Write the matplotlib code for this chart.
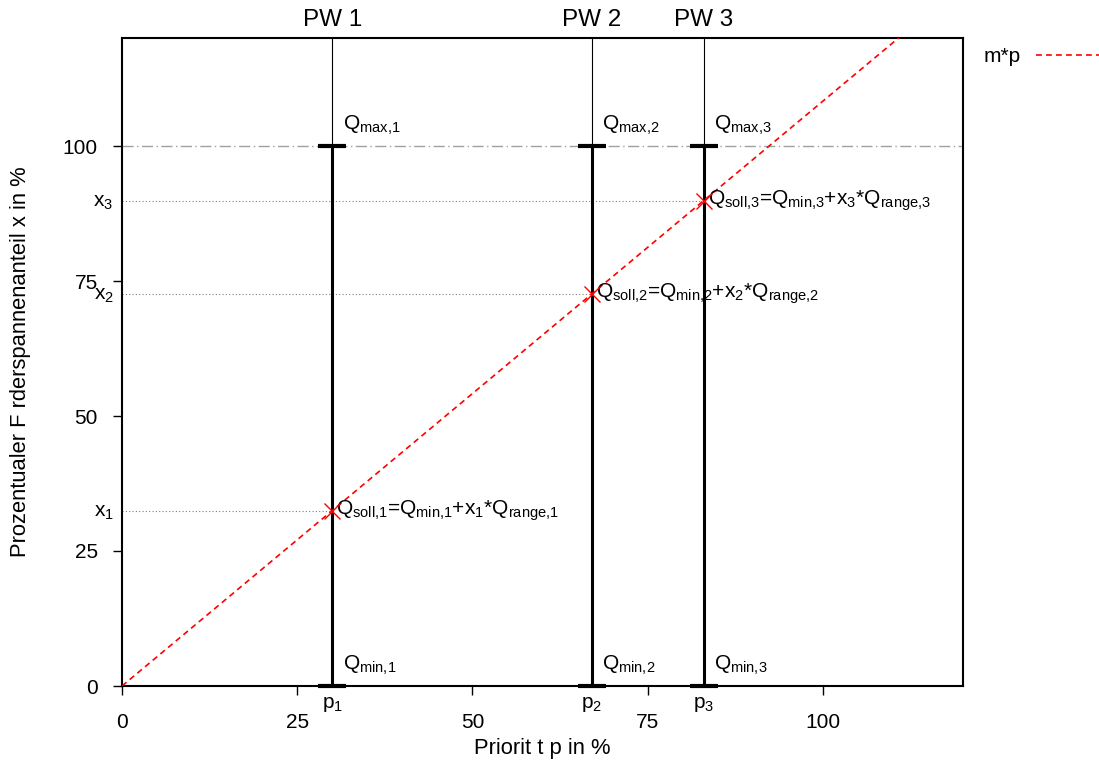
import matplotlib
matplotlib.use("Agg")
import matplotlib.pyplot as plt
import matplotlib.transforms as mtransforms

plt.rcParams['font.family'] = ['Liberation Sans', 'DejaVu Sans']
plt.rcParams['mathtext.fontset'] = 'custom'
plt.rcParams['mathtext.rm'] = 'Liberation Sans'
plt.rcParams['mathtext.it'] = 'Liberation Sans'
plt.rcParams['mathtext.default'] = 'regular'

# ---- data ----
pw_names = ["PW 1", "PW 2", "PW 3"]
p_values = [30, 67, 83]          # Priorität p in %
m_slope = 1.083                  # m
x_levels = [32.5, 72.6, 89.9]    # x_i = m * p_i
q_min = [0, 0, 0]
q_max = [100, 100, 100]
x_ticks = [0, 25, 50, 75, 100]
y_ticks = [0, 25, 50, 75, 100]
x_range = (0, 120)
y_range = (0, 120)
line_x = [0, 120]

FS = 15
FS_LAB = 15.8

fig = plt.figure(figsize=(10.99, 7.63), dpi=100)
ax = fig.add_axes([122/1099, 1-686/763, (963-122)/1099, (686-38)/763])
ax.set_xlim(*x_range)
ax.set_ylim(*y_range)

# Qmax line (gray dash-dot)
ax.axhline(100, color='#a0a0a0', lw=1.0, ls=(0, (8, 2.5, 1, 2.5)), zorder=1)

# dotted x_i level lines
for p, xl in zip(p_values, x_levels):
    ax.plot([0, p], [xl, xl], color='#808080', lw=0.8, ls=(0, (1, 2)), zorder=1)

# m*p line
ax.plot(line_x, [m_slope * v for v in line_x], color='red', lw=1.2,
        ls=(0, (3.5, 2.5)), label='m*p', zorder=3)

# PW vertical lines
for i, p in enumerate(p_values):
    ax.plot([p, p], [q_max[i], y_range[1]], color='black', lw=0.8, zorder=2)
    ax.plot([p, p], [q_min[i], q_max[i]], color='black', lw=2.2, zorder=2)
    for q in (q_min[i], q_max[i]):
        ax.plot([p - 2, p + 2], [q, q], color='black', lw=3.0, zorder=2,
                solid_capstyle='butt', clip_on=False)

# points
ax.plot(p_values, x_levels, ls='none', marker='x', color='red', ms=11, mew=1.0, zorder=4)

# annotations
for i, (p, xl) in enumerate(zip(p_values, x_levels)):
    n = i + 1
    ax.text(p + 1.5, q_max[i] + 1.6, r'Q$_{max{,}%d}$' % n, fontsize=FS, ha='left', va='bottom')
    ax.text(p + 1.5, q_min[i] + 1.6, r'Q$_{min{,}%d}$' % n, fontsize=FS, ha='left', va='bottom')
    ax.text(p + 0.6, xl, r'Q$_{soll{,}%d}$=Q$_{min{,}%d}$+x$_%d$*Q$_{range{,}%d}$' % (n, n, n, n),
            fontsize=FS, ha='left', va='center')

# x_i labels on y axis
trans_y = mtransforms.blended_transform_factory(ax.transAxes, ax.transData)
for i, xl in enumerate(x_levels):
    ax.text(-0.01, xl - 0.3, r'x$_%d$' % (i + 1), transform=trans_y, fontsize=FS,
            ha='right', va='center')

# p_i labels on x axis
trans_x = mtransforms.blended_transform_factory(ax.transData, ax.transAxes)
for i, p in enumerate(p_values):
    ax.text(p, -0.014, r'p$_%d$' % (i + 1), transform=trans_x, fontsize=FS,
            ha='center', va='top')

# ticks
ax.set_xticks(x_ticks)
ax.set_yticks(y_ticks)
ax.tick_params(axis='both', direction='out', length=6.5, width=1.0, labelsize=FS)
ax.tick_params(axis='x', pad=13)
ax.tick_params(axis='y', pad=11)
for s in ax.spines.values():
    s.set_linewidth(1.5)

# top PW labels
sec = ax.secondary_xaxis('top')
sec.set_xticks(p_values)
sec.set_xticklabels(pw_names, fontsize=17.5)
sec.tick_params(length=0, pad=5)
sec.spines['top'].set_visible(False)

ax.set_xlabel('Priorit t p in %', fontsize=FS_LAB)
ax.set_ylabel('Prozentualer F rderspannenanteil x in %', fontsize=FS_LAB)
ax.xaxis.set_label_coords(0.5, -0.081)
ax.yaxis.set_label_coords(-0.108, 0.5)

ax.legend(loc='center left', bbox_to_anchor=(1.025, (686-57)/648), frameon=False,
          markerfirst=False, handlelength=4.3, borderaxespad=0, borderpad=0,
          handletextpad=0.7, fontsize=FS)

fig.savefig('out.png', dpi=100)
